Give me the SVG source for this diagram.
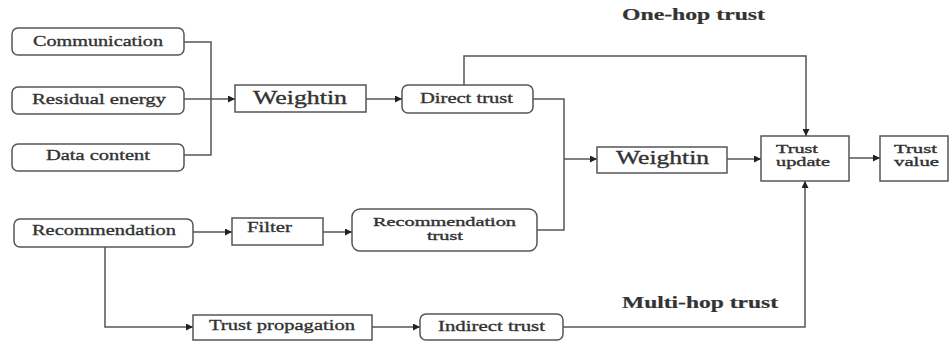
<svg xmlns="http://www.w3.org/2000/svg" width="950" height="341" viewBox="0 0 950 341">
<style>
.box{fill:#fff;stroke:#555;stroke-width:1.5}
.t{font-family:"Liberation Serif","Times New Roman",serif;fill:#333;stroke:#333;stroke-width:0.35}
.s{font-size:15px}
.m{font-size:18px}
.x{font-size:12.5px}
.h{font-size:17px;font-weight:bold;stroke-width:0.2}
.c{fill:none;stroke:#555;stroke-width:1.5}
</style>
<defs>
<marker id="a" viewBox="0 0 10 10" refX="10" refY="5" markerWidth="8" markerHeight="7" markerUnits="userSpaceOnUse" orient="auto">
<path d="M0,0 L10,5 L0,10 z" fill="#222"/>
</marker>
</defs>
<g id="connectors">
<path class="c" d="M184,42 H211 V155 H184"/>
<path class="c" d="M184,99 H235" marker-end="url(#a)"/>
<path class="c" d="M366,99 H402" marker-end="url(#a)"/>
<path class="c" d="M464,85 V56 H806 V136" marker-end="url(#a)"/>
<path class="c" d="M533,99 H564 V230 H537"/>
<path class="c" d="M564,159 H597" marker-end="url(#a)"/>
<path class="c" d="M727,159 H761" marker-end="url(#a)"/>
<path class="c" d="M849,158 H880" marker-end="url(#a)"/>
<path class="c" d="M193,232 H232" marker-end="url(#a)"/>
<path class="c" d="M323,232 H352" marker-end="url(#a)"/>
<path class="c" d="M105,247 V327 H193" marker-end="url(#a)"/>
<path class="c" d="M372,327 H420" marker-end="url(#a)"/>
<path class="c" d="M563,327 H805 V181" marker-end="url(#a)"/>
</g>
<g id="communication"><rect class="box" x="12" y="28" width="172" height="27" rx="6"/><text class="t s" x="33" y="46" textLength="130" lengthAdjust="spacingAndGlyphs">Communication</text></g>
<g id="residual"><rect class="box" x="12" y="87" width="172" height="27" rx="6"/><text class="t s" x="32" y="104" textLength="134" lengthAdjust="spacingAndGlyphs">Residual energy</text></g>
<g id="data"><rect class="box" x="12" y="144" width="172" height="27" rx="6"/><text class="t s" x="46" y="160" textLength="104" lengthAdjust="spacingAndGlyphs">Data content</text></g>
<g id="weightin1"><rect class="box" x="235" y="85" width="131" height="27"/><text class="t m" x="253" y="104" textLength="94" lengthAdjust="spacingAndGlyphs">Weightin</text></g>
<g id="direct"><rect class="box" x="402" y="85" width="131" height="28" rx="6"/><text class="t s" x="420" y="103" textLength="93" lengthAdjust="spacingAndGlyphs">Direct trust</text></g>
<g id="weightin2"><rect class="box" x="597" y="147" width="130" height="26"/><text class="t m" x="616" y="164" textLength="93" lengthAdjust="spacingAndGlyphs">Weightin</text></g>
<g id="update"><rect class="box" x="761" y="136" width="88" height="45"/><text class="t x" x="776" y="153" textLength="42" lengthAdjust="spacingAndGlyphs">Trust</text><text class="t x" x="776" y="166" textLength="54" lengthAdjust="spacingAndGlyphs">update</text></g>
<g id="value"><rect class="box" x="880" y="136" width="68" height="45"/><text class="t x" x="894" y="153" textLength="43" lengthAdjust="spacingAndGlyphs">Trust</text><text class="t x" x="894" y="166" textLength="45" lengthAdjust="spacingAndGlyphs">value</text></g>
<g id="recommendation"><rect class="box" x="14" y="219" width="179" height="28" rx="6"/><text class="t s" x="32" y="235" textLength="144" lengthAdjust="spacingAndGlyphs">Recommendation</text></g>
<g id="filter"><rect class="box" x="232" y="218" width="91" height="27"/><text class="t s" x="247" y="232" textLength="45" lengthAdjust="spacingAndGlyphs">Filter</text></g>
<g id="rectrust"><rect class="box" x="352" y="209" width="185" height="42" rx="8"/><text class="t x" x="373" y="226" textLength="143" lengthAdjust="spacingAndGlyphs">Recommendation</text><text class="t x" x="427" y="240" textLength="36" lengthAdjust="spacingAndGlyphs">trust</text></g>
<g id="propagation"><rect class="box" x="193" y="315" width="179" height="25"/><text class="t s" x="209" y="330" textLength="146" lengthAdjust="spacingAndGlyphs">Trust propagation</text></g>
<g id="indirect"><rect class="box" x="420" y="314" width="143" height="26" rx="6"/><text class="t s" x="438" y="331" textLength="107" lengthAdjust="spacingAndGlyphs">Indirect trust</text></g>
<text class="t h" x="622" y="20" textLength="143" lengthAdjust="spacingAndGlyphs">One-hop trust</text>
<text class="t h" x="622" y="308" textLength="156" lengthAdjust="spacingAndGlyphs">Multi-hop trust</text>
</svg>
